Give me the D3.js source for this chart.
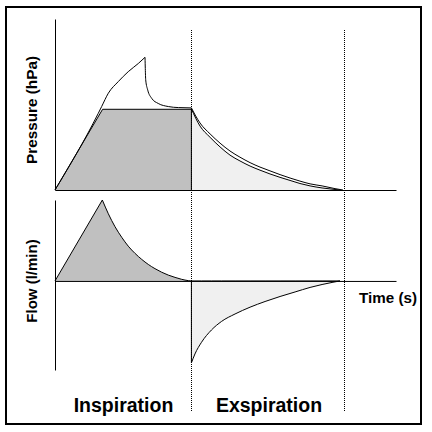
<!DOCTYPE html>
<html>
<head>
<meta charset="utf-8">
<script src="https://cdn.jsdelivr.net/npm/d3@7"></script>
<style>
  body { margin: 0; background: #fff; }
  text { font-family: "Liberation Sans", Arial, sans-serif; font-weight: bold; fill: #000; }
</style>
</head>
<body>
<svg width="432" height="432"></svg>
<script>
// давление в дыхательных путях: подъём до пика (с, гПа)
const pawRiseTime = [0, 0.317, 0.342, 0.391, 0.464, 0.537, 0.611, 0.660];
const pawRiseValue = [0, 22.4, 24.4, 28.3, 31.7, 34.6, 37.0, 38.8];
// падение после пика до конца вдоха
const pawDropTime = [0.660, 0.662, 0.665, 0.680, 0.709, 0.757, 0.831, 0.904, 1.0];
const pawDropValue = [38.8, 35.5, 32.2, 29.2, 26.8, 25.3, 24.4, 24.1, 24.0];
// выдох
const pawExTime = [1.0, 1.063, 1.137, 1.210, 1.283, 1.356, 1.430, 1.503, 1.576, 1.650, 1.723, 1.796, 1.870, 1.958, 2.053, 2.111];
const pawExValue = [24.0, 19.6, 16.4, 13.7, 11.4, 9.6, 8.0, 6.7, 5.6, 4.5, 3.5, 2.6, 1.8, 1.2, 0.4, 0];

// плато давления на вдохе
const plateauTime = [0, 0.349, 1.0, 1.0];
const plateauValue = [0, 23.6, 23.6, 0];

// альвеолярное давление на выдохе
const alvTime = [1.0, 1.063, 1.137, 1.210, 1.283, 1.356, 1.430, 1.503, 1.576, 1.650, 1.723, 1.796, 1.870, 1.958, 2.053, 2.090];
const alvValue = [23.7, 18.7, 15.4, 12.6, 10.2, 8.5, 7.0, 5.8, 4.7, 3.7, 2.8, 1.9, 1.2, 0.6, 0.15, 0];

// поток на вдохе (л/мин)
const flowRiseTime = [0, 0.347];
const flowRiseValue = [0, 50.0];
const flowDecayTime = [0.347, 0.391, 0.440, 0.489, 0.537, 0.587, 0.636, 0.684, 0.733, 0.782, 0.831, 0.880, 0.929, 0.977, 1.0];
const flowDecayValue = [50.0, 41.5, 33.5, 27.0, 21.5, 17.0, 13.3, 10.2, 7.6, 5.4, 3.6, 2.2, 1.0, 0.2, 0];

// поток на выдохе
const flowExTime = [1.0, 1.026, 1.074, 1.147, 1.221, 1.320, 1.430, 1.540, 1.650, 1.760, 1.870, 1.958, 2.038, 2.089];
const flowExValue = [-50.6, -45.1, -37.9, -30.3, -25.0, -20.4, -16.2, -12.7, -9.6, -6.8, -4.0, -2.2, -0.8, 0];

const phaseEnds = [1.0, 2.12];
const phaseLabels = ["Inspiration", "Exspiration"];

const svg = d3.select("svg");

// шкалы
const x = d3.scaleLinear().domain([0, 2.5]).range([55, 396]);
const yP = d3.scaleLinear().domain([0, 50]).range([190, 19]);
const yF = d3.scaleLinear().domain([-55, 50]).range([370, 200]);

const zip = (t, v) => t.map((d, i) => ({ t: d, v: v[i] }));

function lineOf(y, curve) {
    return d3.line().x(d => x(d.t)).y(d => y(d.v)).curve(curve);
}
function areaOf(y, curve) {
    return d3.area().x(d => x(d.t)).y0(y(0)).y1(d => y(d.v)).curve(curve);
}

// рамка
svg.append("rect")
    .attr("x", 6).attr("y", 7)
    .attr("width", 415).attr("height", 417)
    .attr("fill", "none").attr("stroke", "#000").attr("stroke-width", 2);

// --- давление ---
svg.append("path")
    .datum(zip(alvTime, alvValue))
    .attr("d", areaOf(yP, d3.curveMonotoneX))
    .attr("fill", "#f0f0f0");

svg.append("path")
    .datum(zip(plateauTime, plateauValue))
    .attr("d", lineOf(yP, d3.curveLinear))
    .attr("fill", "#c0c0c0").attr("stroke", "#000");

svg.append("path")
    .datum(zip(alvTime, alvValue))
    .attr("d", lineOf(yP, d3.curveMonotoneX))
    .attr("fill", "none").attr("stroke", "#000");

svg.append("path")
    .attr("d", lineOf(yP, d3.curveMonotoneX)(zip(pawRiseTime, pawRiseValue))
        + lineOf(yP, d3.curveMonotoneX)(zip(pawDropTime, pawDropValue))
        + lineOf(yP, d3.curveMonotoneX)(zip(pawExTime, pawExValue)))
    .attr("fill", "none").attr("stroke", "#000");

// оси давления
svg.append("g")
    .attr("transform", "translate(0," + yP(0) + ")")
    .call(d3.axisBottom(x).ticks(0).tickSizeOuter(0));
svg.append("g")
    .attr("transform", "translate(" + x(0) + ",0)")
    .call(d3.axisLeft(yP).ticks(0).tickSizeOuter(0));

// --- поток ---
const rise = zip(flowRiseTime, flowRiseValue);
const decay = zip(flowDecayTime, flowDecayValue);

svg.append("path")
    .attr("d", areaOf(yF, d3.curveLinear)(rise) + areaOf(yF, d3.curveMonotoneX)(decay))
    .attr("fill", "#c0c0c0");
svg.append("path")
    .attr("d", lineOf(yF, d3.curveLinear)(rise) + lineOf(yF, d3.curveMonotoneX)(decay))
    .attr("fill", "none").attr("stroke", "#000");

svg.append("path")
    .datum(zip(flowExTime, flowExValue))
    .attr("d", areaOf(yF, d3.curveMonotoneX))
    .attr("fill", "#f0f0f0").attr("stroke", "#000");

// оси потока
svg.append("g")
    .attr("transform", "translate(0," + yF(0) + ")")
    .call(d3.axisBottom(x).ticks(0).tickSizeOuter(0));
svg.append("g")
    .attr("transform", "translate(" + x(0) + ",0)")
    .call(d3.axisLeft(yF).ticks(0).tickSizeOuter(0));

svg.selectAll(".domain").attr("stroke", "#000");

// пунктирные границы фаз
svg.selectAll(".phase")
    .data(phaseEnds)
    .enter().append("line")
    .attr("x1", d => Math.round(x(d)) + 0.5).attr("x2", d => Math.round(x(d)) + 0.5)
    .attr("y1", 30).attr("y2", 412)
    .attr("stroke", "#000").attr("stroke-dasharray", "1,1");

// подписи
svg.append("text")
    .attr("transform", "translate(37,110) rotate(-90)")
    .attr("text-anchor", "middle").style("font-size", "15.3px")
    .text("Pressure (hPa)");
svg.append("text")
    .attr("transform", "translate(37,281) rotate(-90)")
    .attr("text-anchor", "middle").style("font-size", "15px")
    .text("Flow (l/min)");
svg.append("text")
    .attr("x", 359).attr("y", 303)
    .style("font-size", "15.2px")
    .text("Time (s)");

svg.selectAll(".phaseLabel")
    .data(phaseLabels)
    .enter().append("text")
    .attr("x", (d, i) => (i === 0 ? 123.5 : 269))
    .attr("y", 412)
    .attr("text-anchor", "middle")
    .style("font-size", "19.5px")
    .text(d => d);
</script>
</body>
</html>
